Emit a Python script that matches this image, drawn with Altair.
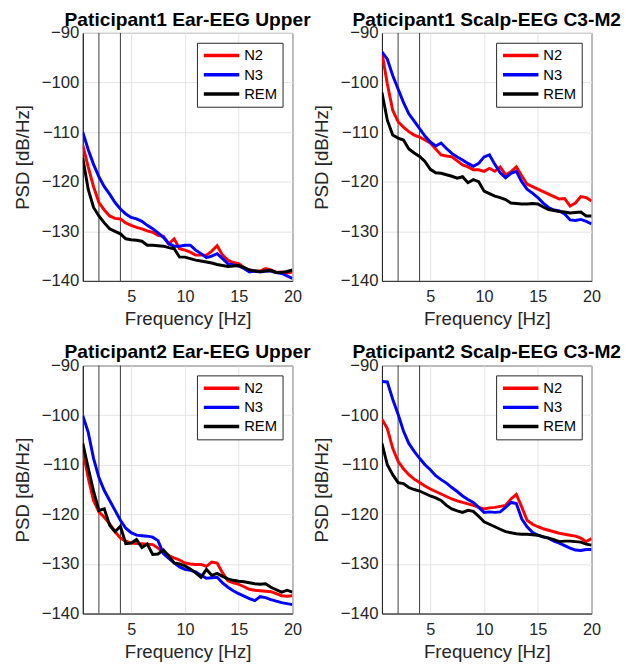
import altair as alt
import pandas as pd

freq = [0.5, 1, 1.5, 2, 2.5, 3, 3.5, 4, 4.5, 5, 5.5, 6, 6.5, 7, 7.5, 8, 8.5, 9, 9.5, 10,
        10.5, 11, 11.5, 12, 12.5, 13, 13.5, 14, 14.5, 15, 15.5, 16, 16.5, 17, 17.5, 18, 18.5, 19, 19.5, 20]

p1_ear_n2 = [-112.6, -117, -121, -124.2, -125.7, -126.9, -127.4, -127.5, -128.3, -128.8, -129.2, -129.5, -129.9, -130.2,
             -130.8, -131, -132.5, -131.5, -133.5, -133.8, -134.2, -134.8, -134.8, -134.8, -134, -132.9, -134.8, -135.8,
             -136.3, -136.5, -137.3, -137.8, -138, -138, -137.5, -137.8, -138.3, -138.2, -138.4, -138.2]
p1_ear_n3 = [-110, -113.5, -116.5, -119, -121, -122.5, -124.2, -125.5, -126.5, -127.2, -127.5, -128, -128.8, -129.5,
             -130.3, -131.2, -132.5, -133, -133, -132.8, -132.8, -133.8, -134.5, -135.3, -135, -134.5, -135.5, -136.5,
             -136.8, -137, -137.5, -138.2, -138, -138.2, -138, -138, -138.3, -138.5, -139, -139.5]
p1_ear_rem = [-115.2, -121.5, -125.2, -126.9, -128.3, -129.5, -130, -130.5, -131.5, -131.7, -131.8, -132, -132.8, -132.8,
              -132.9, -133, -133.3, -133.5, -135.2, -135.2, -135.5, -135.8, -136, -136.2, -136.4, -136.7, -136.9, -137.1,
              -137, -136.9, -137.3, -137.8, -138, -138.1, -138, -137.9, -138.3, -138.3, -138.1, -137.8]

p1_scalp_n2 = [-94, -100.3, -105.6, -107.9, -109, -109.9, -110.6, -111, -111.6, -112.2, -113.4, -114.6, -114.8, -115,
               -115.8, -116.6, -117, -117.6, -117.6, -117.9, -117.3, -117.9, -117, -118.6, -118, -117, -118.8, -120.5,
               -121, -121.5, -122, -122.5, -123, -123.5, -123.4, -124.9, -124.3, -123, -123.2, -123.9]
p1_scalp_n3 = [-93.8, -95.3, -98.6, -101.3, -104, -106.3, -107.8, -109.3, -110.8, -112, -112.8, -112.2, -113.3, -114.3,
               -115, -115.6, -116.3, -116.9, -116.3, -115, -114.6, -116.5, -118.2, -119.2, -118.3, -117.9, -120, -121.5,
               -122.3, -123.2, -124.3, -125.2, -125.7, -125.9, -126.5, -127.7, -127.8, -127.6, -128, -128.5]
p1_scalp_rem = [-102, -107.6, -110.6, -111.2, -111.6, -113.4, -114.2, -114.9, -115.9, -117.5, -118.2, -118.3, -118.6, -118.9,
                -119.3, -119, -120.2, -119.6, -120, -121.9, -122.4, -122.9, -123.2, -123.6, -124.3, -124.4, -124.5, -124.5,
                -124.4, -124.5, -125.1, -125.6, -125.8, -126, -126.1, -126.3, -126.2, -126.1, -126.9, -126.9]

p2_ear_n2 = [-107, -112.6, -117.2, -119.5, -120.6, -121.9, -123.5, -124.8, -125.4, -125.8, -125.9, -125.9, -126, -126.1,
             -126.8, -127.7, -128.3, -128.8, -129.2, -129.8, -130, -130.1, -130.1, -130.5, -129.6, -129.8, -131.8, -133.4,
             -133.8, -134.1, -134.6, -135.1, -135.3, -135.4, -135.5, -135.6, -136, -136.4, -136.5, -136.4]
p2_ear_n3 = [-100.1, -103.4, -108.7, -112.6, -115.2, -117.2, -119.2, -121.2, -122.8, -123.7, -124.2, -124.3, -124.4, -124.6,
             -125.3, -127.9, -128.9, -129.8, -130.6, -131.1, -131.3, -131.6, -132.3, -132.9, -132.8, -132.7, -133.8, -134.7,
             -135.4, -136, -136.5, -137, -137.4, -136.6, -136.8, -137.2, -137.5, -137.8, -138, -138.2]
p2_ear_rem = [-105.7, -110.6, -115.3, -119.2, -118.9, -122.2, -123.5, -122.4, -125.9, -125.8, -125.1, -126.7, -126, -128.1,
              -128, -127.2, -128.4, -129.8, -130, -130.4, -131, -131.8, -132.7, -131.1, -132.3, -131.9, -132.5, -133,
              -133.3, -133.5, -133.6, -133.8, -134, -134.1, -134, -134.7, -135.2, -135.7, -135.3, -135.7]

p2_scalp_n2 = [-100.8, -102.7, -106.7, -109.3, -110.8, -112, -112.9, -113.6, -114.3, -114.9, -115.4, -115.9, -116.4, -116.9,
               -117.3, -117.6, -117.9, -118.2, -118.6, -118.9, -118.7, -118.6, -118.4, -118.2, -116.9, -116, -118.5, -121.2,
               -122, -122.5, -122.9, -123.2, -123.5, -123.8, -124, -124.2, -124.4, -124.8, -125.5, -124.9]
p2_scalp_n3 = [-93.2, -93.3, -96.8, -99.8, -103.2, -105.7, -107.3, -108.7, -110, -111, -112.2, -113, -113.7, -114.6,
               -115.4, -116.3, -117, -117.6, -118.6, -119.6, -119.5, -119.6, -119.5, -118.6, -117.6, -117.8, -120.9, -122.5,
               -123.6, -124.2, -124.6, -124.8, -125.4, -125.8, -126.3, -126.8, -127.2, -127.3, -127.1, -127.1]
p2_scalp_rem = [-105.7, -110, -112, -113.6, -113.8, -114.6, -115, -115.3, -115.8, -116.3, -116.7, -117.2, -118.2, -118.9,
                -119.3, -119.6, -119.2, -119.4, -120.4, -121.5, -122, -122.5, -123, -123.5, -123.7, -123.9, -124, -124,
                -124.1, -124.2, -124.5, -124.8, -125.1, -125.5, -125.4, -125.4, -125.5, -125.6, -126, -126.2]

titles = ["Paticipant1 Ear-EEG Upper", "Paticipant1 Scalp-EEG C3-M2",
          "Paticipant2 Ear-EEG Upper", "Paticipant2 Scalp-EEG C3-M2"]
stages = ["N2", "N3", "REM"]
stage_colors = ["#ff0000", "#0000ff", "#000000"]
band_lines = [2, 4]
x_ticks = [5, 10, 15, 20]
y_ticks = [-140, -130, -120, -110, -100, -90]

FONT = "Liberation Sans"
TXT = "#262626"


def panel(title, n2, n3, rem):
    rows = []
    for stage, vals in zip(stages, [n2, n3, rem]):
        for f, v in zip(freq, vals):
            rows.append({"f": f, "psd": v, "stage": stage})
    df = pd.DataFrame(rows)
    xs = alt.Scale(domain=[0.5, 20], nice=False, zero=False)
    ys = alt.Scale(domain=[-140, -90], nice=False, zero=False)
    lines = alt.Chart(df).mark_line(strokeWidth=3, clip=True).encode(
        x=alt.X("f:Q", scale=xs, title="Frequency [Hz]",
                axis=alt.Axis(values=x_ticks, grid=True, labelFlush=False,
                              labelFontSize=16.5, titleFontSize=19,
                              labelPadding=8, titlePadding=5)),
        y=alt.Y("psd:Q", scale=ys, title="PSD [dB/Hz]",
                axis=alt.Axis(values=y_ticks, grid=True, labelFlush=False,
                              labelFontSize=17, titleFontSize=19,
                              labelPadding=4, titlePadding=9)),
        color=alt.Color("stage:N", scale=alt.Scale(domain=stages, range=stage_colors),
                        legend=alt.Legend(title=None, orient="top-right", offset=10,
                                          symbolType="stroke", symbolSize=1296,
                                          symbolStrokeWidth=3.5, labelFontSize=15,
                                          labelFont=FONT, labelColor="#000000",
                                          strokeColor="#262626", fillColor="white",
                                          padding=5, rowPadding=3.5, clipHeight=16,
                                          labelOffset=3)),
        order=alt.Order("stage:N"),
    )
    rules = alt.Chart(pd.DataFrame({"f": band_lines})).mark_rule(
        color="#3a3a3a", strokeWidth=1).encode(x=alt.X("f:Q", scale=xs))
    return alt.layer(rules, lines).properties(
        width=213, height=252,
        title=alt.TitleParams(title, fontSize=19.5, fontWeight="bold", font=FONT,
                              color="#000000", offset=-6, anchor="middle"),
    ).resolve_scale(color="independent")


charts = [panel(titles[0], p1_ear_n2, p1_ear_n3, p1_ear_rem),
          panel(titles[1], p1_scalp_n2, p1_scalp_n3, p1_scalp_rem),
          panel(titles[2], p2_ear_n2, p2_ear_n3, p2_ear_rem),
          panel(titles[3], p2_scalp_n2, p2_scalp_n3, p2_scalp_rem)]

row1 = alt.hconcat(charts[0], charts[1], spacing=0).resolve_scale(color="independent")
row2 = alt.hconcat(charts[2], charts[3], spacing=0).resolve_scale(color="independent")
chart = alt.vconcat(row1, row2, spacing=13).resolve_scale(color="independent").properties(
    padding={"left": 5, "right": 5, "top": -4, "bottom": 0},
    background="white",
).configure_view(
    stroke="#262626", strokeWidth=1
).configure_axis(
    labelFont=FONT, titleFont=FONT,
    labelColor=TXT, titleColor=TXT, titleFontWeight="normal",
    gridColor="#e3e3e3", gridWidth=1, domainColor="#262626",
    ticks=False,
)

chart.save("out.html", embed_options={"renderer": "svg", "actions": False})
